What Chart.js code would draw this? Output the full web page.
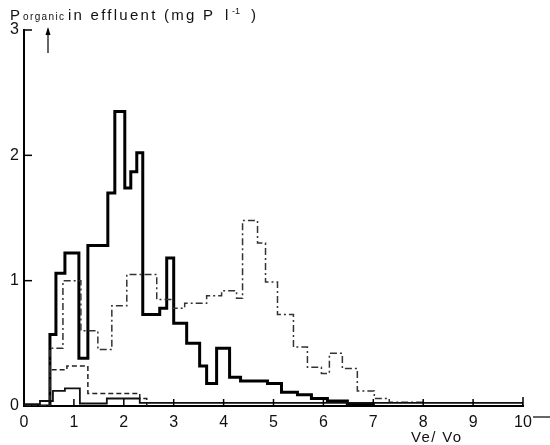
<!DOCTYPE html>
<html>
<head>
<meta charset="utf-8">
<script src="https://cdn.jsdelivr.net/npm/chart.js@4.4.0/dist/chart.umd.min.js"></script>
<style>
  html, body { margin: 0; padding: 0; background: #fff; }
  #wrap { width: 550px; height: 445px; }
</style>
</head>
<body>
<div id="wrap"><canvas id="chart" width="550" height="445"></canvas></div>
<script>
// tick values
const xTicks = [0, 1, 2, 3, 4, 5, 6, 7, 8, 9, 10];
const yTicks = [0, 1, 2, 3];

// bin edges (Ve/Vo) and heights, each height holds until the next edge
const mainEdges  = [0, 0.52, 0.64, 0.82, 1.10, 1.28, 1.68, 1.82, 2.02, 2.14, 2.26, 2.38, 2.72, 2.86, 3.00, 3.26, 3.52, 3.66, 3.86, 4.12, 4.34, 4.88, 5.16, 5.48, 5.76, 6.08, 6.48, 7.00];
const mainValues = [0, 0.57, 1.06, 1.22, 0.38, 1.28, 1.70, 2.35, 1.74, 1.87, 2.02, 0.73, 0.78, 1.18, 0.66, 0.50, 0.32, 0.18, 0.46, 0.23, 0.20, 0.18, 0.11, 0.09, 0.06, 0.04, 0.02, 0];

const dashDotEdges  = [0, 0.52, 0.78, 1.14, 1.48, 1.76, 2.06, 2.66, 2.98, 3.22, 3.66, 3.96, 4.26, 4.38, 4.68, 4.84, 5.08, 5.40, 5.68, 5.96, 6.12, 6.38, 6.68, 7.02, 7.32, 8.00];
const dashDotValues = [0, 0.46, 1.00, 0.60, 0.45, 0.80, 1.05, 0.85, 0.78, 0.82, 0.88, 0.92, 0.86, 1.48, 1.30, 0.99, 0.73, 0.47, 0.31, 0.26, 0.42, 0.30, 0.12, 0.06, 0.03, 0];

const dashedEdges  = [0, 0.52, 0.86, 1.28, 2.32, 2.46];
const dashedValues = [0, 0.29, 0.32, 0.10, 0.06, 0];

const lowEdges  = [0, 0.32, 0.58, 0.82, 1.12, 1.66, 2.32, 10];
const lowValues = [0.015, 0.04, 0.12, 0.14, 0.02, 0.06, 0.025, 0];

function toPoints(edges, values) {
    return edges.map((x, i) => ({ x: x, y: values[i] }));
}

const FONT = '"Liberation Sans", Arial, sans-serif';

// writes text stretched to a given width with letter spacing
function spacedText(ctx, text, x, y, width) {
    ctx.letterSpacing = '0px';
    const w0 = ctx.measureText(text).width;
    const sp = Math.max(0, (width - w0) / Math.max(1, text.length - 1));
    ctx.letterSpacing = sp + 'px';
    ctx.fillText(text, x, y);
    ctx.letterSpacing = '0px';
}

// ticks pointing into the plot, arrows and the texts
const decorations = {
    id: 'decorations',
    afterDraw(chart) {
        const ctx = chart.ctx;
        const xs = chart.scales.x, ys = chart.scales.y;
        const left = chart.chartArea.left, bottom = chart.chartArea.bottom;
        ctx.save();
        ctx.strokeStyle = '#000';
        ctx.lineWidth = 1.5;
        xTicks.forEach(v => {
            const px = xs.getPixelForValue(v);
            const h = v === 10 ? 9 : 7;
            ctx.beginPath();
            ctx.moveTo(px, bottom + 1);
            ctx.lineTo(px, bottom - h);
            ctx.stroke();
        });
        yTicks.forEach(v => {
            if (v === 0) return;
            const py = ys.getPixelForValue(v);
            ctx.beginPath();
            ctx.moveTo(left, py);
            ctx.lineTo(left + 8, py);
            ctx.stroke();
        });

        // arrow next to y axis
        ctx.lineWidth = 1.2;
        ctx.beginPath();
        ctx.moveTo(48, 53);
        ctx.lineTo(48, 29);
        ctx.stroke();
        ctx.beginPath();
        ctx.moveTo(45.5, 35);
        ctx.lineTo(48, 27);
        ctx.lineTo(50.5, 35);
        ctx.closePath();
        ctx.fillStyle = '#000';
        ctx.fill();

        // arrow after 10
        ctx.beginPath();
        ctx.moveTo(533, 417);
        ctx.lineTo(550, 417);
        ctx.stroke();

        // title
        ctx.fillStyle = '#111';
        ctx.textBaseline = 'alphabetic';
        ctx.font = '15px ' + FONT;
        ctx.fillText('P', 10, 20);
        ctx.font = '10px ' + FONT;
        spacedText(ctx, 'organic', 23, 20, 41);
        ctx.font = '15px ' + FONT;
        spacedText(ctx, 'in effluent (mg P', 68, 20, 145);
        ctx.fillText('l', 225, 20);
        ctx.font = '9px ' + FONT;
        ctx.fillText('-1', 232, 14);
        ctx.font = '15px ' + FONT;
        ctx.fillText(')', 251, 20);

        // x axis name
        ctx.font = '15px ' + FONT;
        spacedText(ctx, 'Ve/ Vo', 411, 442, 50);
        ctx.restore();
    }
};

const tickFont = { family: FONT, size: 16 };

new Chart(document.getElementById('chart').getContext('2d'), {
    type: 'line',
    data: {
        datasets: [
            {
                data: toPoints(lowEdges, lowValues),
                borderColor: '#111', borderWidth: 1.8
            },
            {
                data: toPoints(dashedEdges, dashedValues),
                borderColor: '#222', borderWidth: 1.5, borderDash: [5, 3]
            },
            {
                data: toPoints(dashDotEdges, dashDotValues),
                borderColor: '#333', borderWidth: 1.5, borderDash: [7, 3, 2, 3]
            },
            {
                data: toPoints(mainEdges, mainValues),
                borderColor: '#000', borderWidth: 3
            }
        ]
    },
    options: {
        responsive: false,
        animation: false,
        layout: { padding: { top: 30, right: 27, left: 0, bottom: 0 } },
        elements: {
            point: { radius: 0 },
            line: { stepped: 'before', tension: 0, fill: false, borderJoinStyle: 'miter' }
        },
        plugins: {
            legend: { display: false },
            tooltip: { enabled: false }
        },
        scales: {
            x: {
                type: 'linear',
                min: 0,
                max: 10,
                afterBuildTicks: s => { s.ticks = xTicks.map(v => ({ value: v })); },
                afterFit: s => { s.height = 39; },
                grid: { drawOnChartArea: false, drawTicks: false },
                border: { color: '#000', width: 2 },
                ticks: { color: '#111', font: tickFont, padding: 7, maxRotation: 0 }
            },
            y: {
                type: 'linear',
                min: 0,
                max: 3,
                afterBuildTicks: s => { s.ticks = yTicks.map(v => ({ value: v })); },
                afterFit: s => { s.width = 24; },
                grid: { drawOnChartArea: false, drawTicks: false },
                border: { color: '#000', width: 2 },
                ticks: { color: '#111', font: tickFont, padding: 5 }
            }
        }
    },
    plugins: [decorations]
});
</script>
</body>
</html>
